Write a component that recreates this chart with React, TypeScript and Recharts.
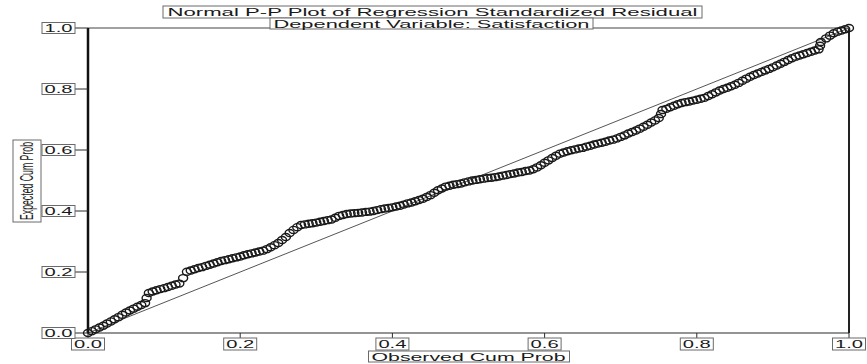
import React from "react";
import {
  ScatterChart,
  Scatter,
  XAxis,
  YAxis,
  ReferenceLine,
} from "recharts";

// Observed cumulative probability of the standardized residuals (first batch of cases)
const observed = [
  0.0, 0.01, 0.02, 0.03, 0.04, 0.05, 0.06, 0.07, 0.075, 0.077, 0.08, 0.09,
  0.1, 0.11, 0.12, 0.125, 0.13, 0.14, 0.15, 0.16, 0.17, 0.18, 0.19, 0.2,
  0.21, 0.22, 0.23, 0.24, 0.25, 0.26, 0.265, 0.27, 0.28, 0.29, 0.3, 0.31,
  0.32, 0.33, 0.34, 0.35, 0.36, 0.37, 0.38, 0.39, 0.4, 0.41, 0.42, 0.43,
  0.44, 0.45, 0.455, 0.46, 0.47, 0.48, 0.49, 0.5, 0.51, 0.52, 0.53, 0.54,
  0.55, 0.56, 0.57, 0.58, 0.59, 0.6, 0.605, 0.61, 0.62, 0.63, 0.64, 0.65,
  0.66, 0.67, 0.68, 0.69, 0.7, 0.71, 0.72, 0.73, 0.74, 0.75, 0.753, 0.755,
  0.76, 0.77, 0.78, 0.79, 0.8, 0.81, 0.82, 0.83, 0.84, 0.85, 0.86, 0.87,
  0.88, 0.89, 0.9, 0.91, 0.92, 0.93, 0.94, 0.95, 0.96, 0.962, 0.963, 0.97,
  0.98, 0.99, 1.0,
];

// Expected cumulative probability under normality (first batch of cases)
const expected = [
  0.0, 0.012, 0.024, 0.038, 0.052, 0.067, 0.08, 0.092, 0.098, 0.115, 0.131,
  0.14, 0.147, 0.155, 0.162, 0.18, 0.201, 0.209, 0.216, 0.224, 0.232, 0.239,
  0.245, 0.251, 0.258, 0.264, 0.27, 0.281, 0.295, 0.315, 0.328, 0.338,
  0.354, 0.358, 0.362, 0.367, 0.372, 0.384, 0.39, 0.393, 0.395, 0.398,
  0.403, 0.408, 0.412, 0.417, 0.425, 0.432, 0.44, 0.452, 0.46, 0.468, 0.48,
  0.486, 0.49, 0.497, 0.502, 0.506, 0.509, 0.513, 0.518, 0.523, 0.528,
  0.533, 0.543, 0.558, 0.566, 0.574, 0.588, 0.596, 0.602, 0.607, 0.614,
  0.621, 0.627, 0.634, 0.643, 0.654, 0.664, 0.676, 0.69, 0.705, 0.718,
  0.731, 0.735, 0.745, 0.754, 0.759, 0.765, 0.771, 0.783, 0.795, 0.804,
  0.814, 0.827, 0.84, 0.851, 0.861, 0.871, 0.883, 0.895, 0.906, 0.914,
  0.922, 0.93, 0.942, 0.954, 0.966, 0.983, 0.992, 1.0,
];

// Second batch of cases
const observedB = [
  0.005, 0.015, 0.025, 0.035, 0.045, 0.055, 0.065, 0.085, 0.095, 0.105,
  0.115, 0.135, 0.145, 0.155, 0.165, 0.175, 0.185, 0.195, 0.205, 0.215,
  0.225, 0.235, 0.245, 0.255, 0.275, 0.285, 0.295, 0.305, 0.315, 0.325,
  0.335, 0.345, 0.355, 0.365, 0.375, 0.385, 0.395, 0.405, 0.415, 0.425,
  0.435, 0.445, 0.465, 0.475, 0.485, 0.495, 0.505, 0.515, 0.525, 0.535,
  0.545, 0.555, 0.565, 0.575, 0.585, 0.595, 0.615, 0.625, 0.635, 0.645,
  0.655, 0.665, 0.675, 0.685, 0.695, 0.705, 0.715, 0.725, 0.735, 0.745,
  0.765, 0.775, 0.785, 0.795, 0.805, 0.815, 0.825, 0.835, 0.845, 0.855,
  0.865, 0.875, 0.885, 0.895, 0.905, 0.915, 0.925, 0.935, 0.945, 0.955,
  0.975, 0.985, 0.995,
];

const expectedB = [
  0.006, 0.018, 0.031, 0.045, 0.06, 0.074, 0.086, 0.136, 0.144, 0.151,
  0.159, 0.205, 0.213, 0.22, 0.228, 0.236, 0.242, 0.248, 0.255, 0.261,
  0.267, 0.275, 0.288, 0.305, 0.347, 0.356, 0.36, 0.365, 0.37, 0.378,
  0.387, 0.392, 0.394, 0.397, 0.4, 0.406, 0.41, 0.415, 0.421, 0.428,
  0.436, 0.446, 0.474, 0.483, 0.488, 0.494, 0.5, 0.504, 0.508, 0.511,
  0.516, 0.521, 0.526, 0.531, 0.537, 0.55, 0.581, 0.592, 0.599, 0.605,
  0.611, 0.618, 0.624, 0.631, 0.638, 0.648, 0.659, 0.67, 0.683, 0.697,
  0.74, 0.75, 0.757, 0.762, 0.768, 0.777, 0.789, 0.8, 0.809, 0.82,
  0.834, 0.846, 0.856, 0.866, 0.877, 0.889, 0.901, 0.91, 0.918, 0.926,
  0.975, 0.988, 0.996,
];

const tickValues = [0, 0.2, 0.4, 0.6, 0.8, 1.0];
const tickLabels = ["0.0", "0.2", "0.4", "0.6", "0.8", "1.0"];

const titleLines = [
  "Normal P-P Plot of Regression Standardized Residual",
  "Dependent Variable: Satisfaction",
];
const xTitle = "Observed Cum Prob";
const yTitle = "Expected Cum Prob";

const points = [
  ...observed.map((o, i) => ({ observed: o, expected: expected[i] })),
  ...observedB.map((o, i) => ({ observed: o, expected: expectedB[i] })),
];

const FONT = "'Liberation Sans', Arial, sans-serif";
const INK = "#1a1a1a";
const BOX = "#6a6a6a";

const labelFor = (v: number) => tickLabels[tickValues.indexOf(v)] ?? String(v);

// Boxed tick label on the vertical axis, right edge at the tick end
const YTick = (props: any) => {
  const { x, y, payload } = props;
  const w = 33;
  const h = 11;
  return (
    <g>
      <rect x={x - w} y={y - h / 2} width={w} height={h} fill="#fff" stroke={BOX} strokeWidth={1} />
      <text
        x={x - w / 2}
        y={y + 4}
        textAnchor="middle"
        fontFamily={FONT}
        fontSize={11}
        fill={INK}
        textLength={28}
        lengthAdjust="spacingAndGlyphs"
      >
        {labelFor(payload.value)}
      </text>
    </g>
  );
};

// Boxed tick label under the horizontal axis
const XTick = (props: any) => {
  const { x, y, payload } = props;
  const w = 33;
  const h = 12;
  return (
    <g>
      <rect x={x - w / 2} y={y} width={w} height={h} fill="#fff" stroke={BOX} strokeWidth={1} />
      <text
        x={x}
        y={y + 10}
        textAnchor="middle"
        fontFamily={FONT}
        fontSize={11}
        fill={INK}
        textLength={28}
        lengthAdjust="spacingAndGlyphs"
      >
        {labelFor(payload.value)}
      </text>
    </g>
  );
};

// Hollow ring marker for each residual
const Ring = (props: any) => {
  const { cx, cy } = props;
  if (cx == null || cy == null) return null;
  return <ellipse cx={cx} cy={cy} rx={4.5} ry={3.5} fill="none" stroke="#1a1a1a" strokeWidth={1.4} />;
};

const XTitle = (props: any) => {
  const vb = props.viewBox || {};
  const cx = vb.x + vb.width / 2;
  const top = 351;
  return (
    <g>
      <rect x={cx - 100} y={top} width={201} height={11} fill="#fff" stroke={BOX} strokeWidth={1} />
      <text
        x={cx}
        y={top + 10}
        textAnchor="middle"
        fontFamily={FONT}
        fontSize={11}
        fill={INK}
        textLength={194}
        lengthAdjust="spacingAndGlyphs"
      >
        {xTitle}
      </text>
    </g>
  );
};

const YTitle = () => {
  const cx = 27;
  const cy = 181;
  return (
    <g>
      <rect x={13} y={cy - 41} width={28} height={82} fill="#fff" stroke={BOX} strokeWidth={1} />
      <text
        x={cx}
        y={cy}
        transform={`rotate(-90 ${cx} ${cy})`}
        dy={6}
        textAnchor="middle"
        fontFamily={FONT}
        fontSize={18}
        fill={INK}
        textLength={78}
        lengthAdjust="spacingAndGlyphs"
      >
        {yTitle}
      </text>
    </g>
  );
};

export default function App() {
  return (
    <div style={{ position: "absolute", left: 0, top: 0, width: 867, height: 364, background: "#fff" }}>
      <ScatterChart
        width={867}
        height={364}
        margin={{ top: 28, right: 18, bottom: 0, left: 0 }}
      >
        <XAxis
          type="number"
          dataKey="observed"
          domain={[0, 1]}
          ticks={tickValues}
          interval={0}
          height={31}
          tickSize={5}
          tickMargin={0}
          tick={<XTick />}
          axisLine={{ stroke: "#2a2a2a", strokeWidth: 1.2 }}
          tickLine={{ stroke: "#2a2a2a" }}
          label={<XTitle />}
        />
        <YAxis
          type="number"
          dataKey="expected"
          domain={[0, 1]}
          ticks={tickValues}
          interval={0}
          width={88}
          tickSize={13}
          tickMargin={0}
          tick={<YTick />}
          axisLine={{ stroke: "#111", strokeWidth: 2.5 }}
          tickLine={{ stroke: "#2a2a2a" }}
          label={<YTitle />}
        />
        <ReferenceLine y={1} stroke="#444" strokeWidth={1.2} ifOverflow="visible" />
        <ReferenceLine x={1} stroke="#222" strokeWidth={2} ifOverflow="visible" />
        <ReferenceLine
          segment={[
            { x: 0, y: 0 },
            { x: 1, y: 1 },
          ]}
          stroke="#555"
          strokeWidth={1}
          ifOverflow="visible"
        />
        <Scatter data={points} shape={<Ring />} isAnimationActive={false} />
      </ScatterChart>
      <svg
        width={867}
        height={364}
        style={{ position: "absolute", left: 0, top: 0, pointerEvents: "none" }}
      >
        <rect x={163} y={6} width={539} height={12} fill="#fff" stroke={BOX} strokeWidth={1} />
        <text
          x={432.5}
          y={15.5}
          textAnchor="middle"
          fontFamily={FONT}
          fontSize={11}
          fill={INK}
          textLength={530}
          lengthAdjust="spacingAndGlyphs"
        >
          {titleLines[0]}
        </text>
        <rect x={270} y={18} width={323} height={11} fill="#fff" stroke={BOX} strokeWidth={1} />
        <text
          x={431.5}
          y={27.5}
          textAnchor="middle"
          fontFamily={FONT}
          fontSize={11}
          fill={INK}
          textLength={316}
          lengthAdjust="spacingAndGlyphs"
        >
          {titleLines[1]}
        </text>
      </svg>
    </div>
  );
}
